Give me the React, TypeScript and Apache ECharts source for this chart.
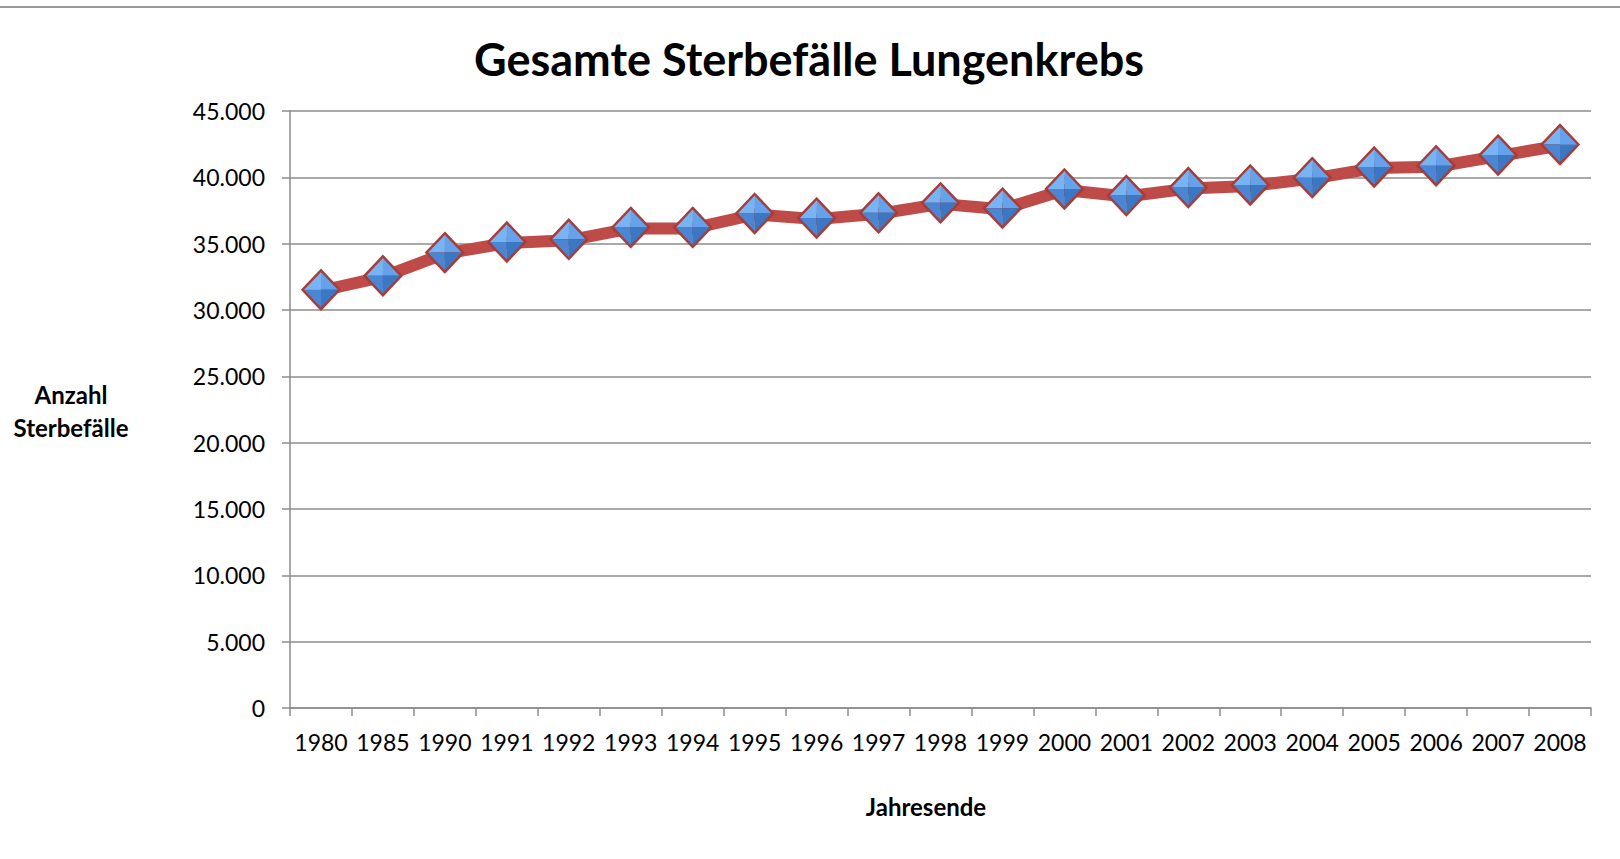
import React, { useEffect, useRef } from "react";
import * as echarts from "echarts";

const years = ["1980","1985","1990","1991","1992","1993","1994","1995","1996","1997","1998","1999","2000","2001","2002","2003","2004","2005","2006","2007","2008"];
const deaths = [31450,32500,34250,35050,35250,36150,36150,37200,36850,37250,38000,37600,39050,38550,39150,39350,39900,40700,40800,41600,42400];
const yTicks = { min: 0, max: 45000, interval: 5000 };

const FONT = "Lato, 'Noto Sans', sans-serif";

function fmt(v: number): string {
  return String(v).replace(/\B(?=(\d{3})+(?!\d))/g, ".");
}

const diamondSvg =
  "<svg xmlns='http://www.w3.org/2000/svg' width='44' height='44' viewBox='0 0 44 44'>" +
  "<defs><filter id='b' x='-20%' y='-20%' width='140%' height='140%'><feGaussianBlur stdDeviation='1.3'/></filter></defs>" +
  "<polygon points='22,5 39,22 22,41 5,22' fill='rgba(0,0,0,0.35)' filter='url(#b)'/>" +
  "<polygon points='22,3 22,21 4,21' fill='#78B3F3'/>" +
  "<polygon points='22,3 40,21 22,21' fill='#64A2EC'/>" +
  "<polygon points='4,21 22,21 22,39' fill='#4A86D3'/>" +
  "<polygon points='22,21 40,21 22,39' fill='#3C77C4'/>" +
  "<polygon points='22,2 40,21 22,40 4,21' fill='none' stroke='#A63D3A' stroke-width='2.4' stroke-linejoin='miter'/>" +
  "</svg>";
const diamondSymbol = "image://data:image/svg+xml;charset=utf-8," + encodeURIComponent(diamondSvg);

export default function App() {
  const ref = useRef<HTMLDivElement>(null);
  useEffect(() => {
    if (!ref.current) return;
    const chart = echarts.init(ref.current, null, { renderer: "svg" });
    chart.setOption({
      animation: false,
      backgroundColor: "#ffffff",
      title: {
        text: "Gesamte Sterbefälle Lungenkrebs",
        left: 804,
        top: 31,
        textAlign: "center",
        textStyle: { fontFamily: FONT, fontWeight: "bold", fontSize: 45, color: "#000" },
      },
      grid: { left: 290, right: 29, top: 111, bottom: 151, containLabel: false },
      xAxis: {
        type: "category",
        data: years,
        boundaryGap: true,
        axisLine: { lineStyle: { color: "#8c8c8c", width: 1.5 } },
        axisTick: { show: true, length: 8, interval: 0, lineStyle: { color: "#8c8c8c", width: 1.5 } },
        axisLabel: { interval: 0, margin: 22, color: "#000", fontFamily: FONT, fontSize: 23 },
        splitLine: { show: false },
      },
      yAxis: {
        type: "value",
        min: yTicks.min,
        max: yTicks.max,
        interval: yTicks.interval,
        axisLine: { show: true, lineStyle: { color: "#8c8c8c", width: 1.5 } },
        axisTick: { show: true, length: 8, lineStyle: { color: "#8c8c8c", width: 1.5 } },
        axisLabel: { margin: 25, color: "#000", fontFamily: FONT, fontSize: 23, formatter: (v: number) => fmt(v) },
        splitLine: { show: true, lineStyle: { color: "#8c8c8c", width: 1.5 } },
      },
      graphic: [
        { type: "line", shape: { x1: 0, y1: 7, x2: 1620, y2: 7 }, style: { stroke: "#999999", lineWidth: 2 } },
        {
          type: "text", x: 71, y: 394,
          style: { text: "Anzahl", fontFamily: FONT, fontWeight: "bold", fontSize: 24, fill: "#000", textAlign: "center", textVerticalAlign: "middle" },
        },
        {
          type: "text", x: 71, y: 427,
          style: { text: "Sterbefälle", fontFamily: FONT, fontWeight: "bold", fontSize: 24, fill: "#000", textAlign: "center", textVerticalAlign: "middle" },
        },
        {
          type: "text", x: 926, y: 806,
          style: { text: "Jahresende", fontFamily: FONT, fontWeight: "bold", fontSize: 24, fill: "#000", textAlign: "center", textVerticalAlign: "middle" },
        },
      ],
      series: [
        {
          type: "line",
          data: deaths,
          lineStyle: { color: "#BE4B48", width: 12 },
          symbol: diamondSymbol,
          symbolSize: 45,
          z: 3,
        },
      ],
    });
    return () => chart.dispose();
  }, []);
  return <div ref={ref} style={{ position: "fixed", left: 0, top: 0, width: 1620, height: 859 }} />;
}
